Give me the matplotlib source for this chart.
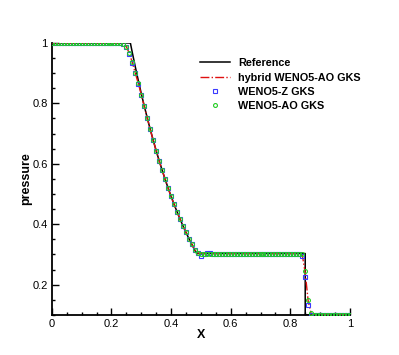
import matplotlib
matplotlib.use("Agg")
import matplotlib.pyplot as plt
import numpy as np
from matplotlib.ticker import MultipleLocator

plt.rcParams['font.family'] = ['Liberation Sans', 'DejaVu Sans']

# exact solution (reference)
x_ref = [0.0, 0.2634, 0.27, 0.28, 0.29, 0.30, 0.31, 0.32, 0.33, 0.34, 0.35,
         0.36, 0.37, 0.38, 0.39, 0.40, 0.41, 0.42, 0.43, 0.44, 0.45, 0.46,
         0.47, 0.48, 0.4859, 0.85, 0.85, 1.0]
p_ref = [1.0, 1.0, 0.9675, 0.9206, 0.8757, 0.8326, 0.7913, 0.7519, 0.7141,
         0.6780, 0.6434, 0.6103, 0.5788, 0.5487, 0.5199, 0.4924, 0.4661,
         0.4411, 0.4172, 0.3944, 0.3728, 0.3521, 0.3325, 0.3137, 0.3031,
         0.3031, 0.1, 0.1]

# grid points 0, 0.01, ..., 1.0
x_num = np.linspace(0.0, 1.0, 101)

fan = [0.752, 0.714, 0.678, 0.643, 0.610, 0.579, 0.549, 0.520, 0.492, 0.466,
       0.441, 0.417, 0.394, 0.373, 0.352, 0.333, 0.314]

p_hybrid = ([1.0] * 24 + [0.997, 0.988, 0.965, 0.935, 0.900, 0.866, 0.829, 0.790]
            + fan + [0.305, 0.303] + [0.303] * 33
            + [0.299, 0.240, 0.145, 0.104] + [0.1] * 13)
p_wenoz = ([1.0] * 24 + [0.997, 0.986, 0.962, 0.933, 0.899, 0.865, 0.828, 0.790]
           + fan + [0.304, 0.294, 0.301, 0.305, 0.304] + [0.303] * 30
           + [0.295, 0.227, 0.134, 0.100] + [0.1] * 13)
p_wenoao = ([1.0] * 24 + [0.997, 0.988, 0.966, 0.936, 0.901, 0.866, 0.829, 0.790]
            + fan + [0.305, 0.303] + [0.303] * 33
            + [0.300, 0.244, 0.150, 0.106] + [0.1] * 13)

fig = plt.figure(figsize=(3.99, 3.55), dpi=100)
ax = fig.add_axes([0.130, 0.113, 0.747, 0.766])

ax.plot(x_ref, p_ref, color='black', lw=1.1, label='Reference', zorder=2)
ax.plot(x_num, p_hybrid, color='#e01010', lw=1.0, ls='-.', label='hybrid WENO5-AO GKS', zorder=3)
ax.plot(x_num, p_wenoz, ls='none', marker='s', ms=2.6, mfc='none', mec='#3a3aff', mew=0.8,
        label='WENO5-Z GKS', zorder=4)
ax.plot(x_num, p_wenoao, ls='none', marker='o', ms=2.8, mfc='none', mec='#22cc22', mew=0.8,
        label='WENO5-AO GKS', zorder=5)

ax.set_xlim(0, 1)
ax.set_ylim(0.1, 1)
ax.xaxis.set_minor_locator(MultipleLocator(0.05))
ax.yaxis.set_minor_locator(MultipleLocator(0.05))
ax.set_xticks([0, 0.2, 0.4, 0.6, 0.8, 1.0])
ax.set_xticklabels(['0', '0.2', '0.4', '0.6', '0.8', '1'])
ax.set_yticks([0.2, 0.4, 0.6, 0.8, 1.0])
ax.set_yticklabels(['0.2', '0.4', '0.6', '0.8', '1'])
ax.tick_params(which='both', direction='in', width=1, labelsize=8, pad=3)
ax.tick_params(which='major', length=5)
ax.tick_params(which='minor', length=2.5)

for s in ['top', 'right']:
    ax.spines[s].set_visible(False)
for s in ['left', 'bottom']:
    ax.spines[s].set_linewidth(1.3)

ax.set_xlabel('X', fontsize=9, fontweight='bold', labelpad=0)
ax.set_ylabel('pressure', fontsize=9, fontweight='bold')
ax.yaxis.set_label_coords(-0.067, 0.5)

leg = fig.legend(loc='upper left', bbox_to_anchor=(0.501, 0.836), frameon=False,
                 prop={'weight': 'bold', 'size': 7.8}, handlelength=2.8,
                 handletextpad=0.7, labelspacing=0.4, borderpad=0, borderaxespad=0,
                 numpoints=1)

fig.savefig('out.png', dpi=100)
